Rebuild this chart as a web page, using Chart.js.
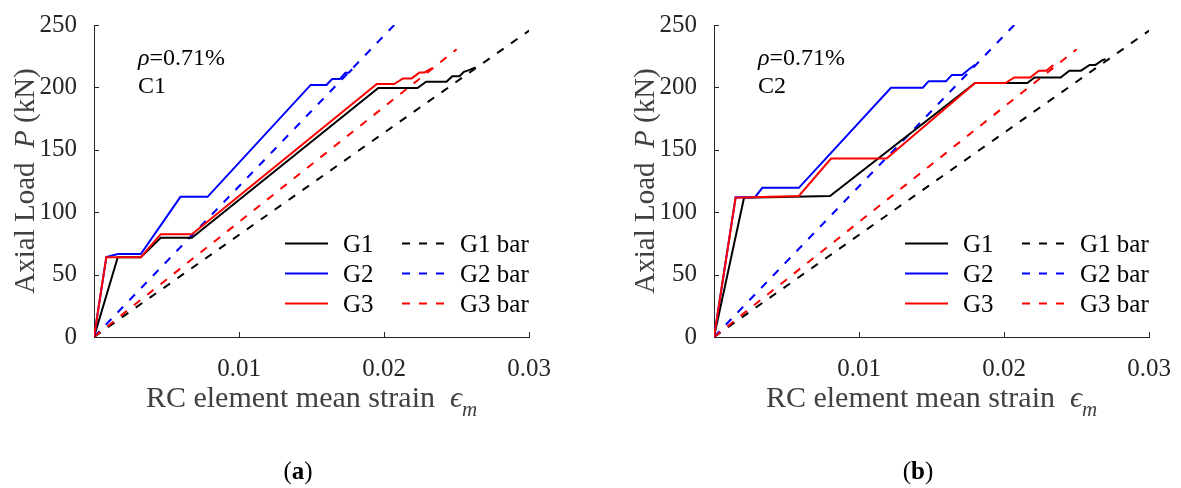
<!DOCTYPE html>
<html>
<head>
<meta charset="utf-8">
<title>Axial load vs mean strain</title>
<script src="https://cdn.jsdelivr.net/npm/chart.js@4.4.1/dist/chart.umd.min.js"></script>
<style>
  html, body { margin: 0; padding: 0; background: #fff; }
  #wrap { position: relative; width: 1181px; height: 488px; overflow: hidden; }
  #wrap canvas { position: absolute; top: 0; }
</style>
</head>
<body>
<div id="wrap">
  <canvas id="chart-a" width="560" height="488" style="left:0"></canvas>
  <canvas id="chart-b" width="560" height="488" style="left:620px"></canvas>
</div>
<script>
// ---- axis ticks ----
const strainTicks = [0.01, 0.02, 0.03];
const loadTicks = [0, 50, 100, 150, 200, 250];

const seriesLabels = ['G1', 'G2', 'G3'];

// ---- column C1 : measured curves ----
const c1G1Strain = [0, 0.00164, 0.00323, 0.0046, 0.00675, 0.0196, 0.0223, 0.0229, 0.0243, 0.0247, 0.0252, 0.0255, 0.0259, 0.0263];
const c1G1Load   = [0, 64, 64, 79.5, 79.5, 199.5, 199.5, 204.5, 204.5, 209, 209, 212.5, 214, 216];
const c1G2Strain = [0, 0.00085, 0.00164, 0.00323, 0.00596, 0.00783, 0.01494, 0.01603, 0.01642, 0.01695, 0.01733, 0.01756, 0.0178];
const c1G2Load   = [0, 64, 66.5, 66.5, 112.3, 112.3, 202, 202, 206.7, 206.7, 211.7, 211.7, 214.5];
const c1G3Strain = [0, 0.00085, 0.00323, 0.0046, 0.00675, 0.0195, 0.0207, 0.0213, 0.0219, 0.02245, 0.0228, 0.0233];
const c1G3Load   = [0, 64, 64, 82.4, 82.4, 202.7, 202.7, 207.2, 207.2, 212, 212, 215.5];

// ---- column C2 : measured curves ----
const c2G1Strain = [0, 0.00207, 0.008, 0.018, 0.0216, 0.0221, 0.0239, 0.0245, 0.0253, 0.0259, 0.0263, 0.0268, 0.027];
const c2G1Load   = [0, 111.5, 113, 203.5, 203.5, 208, 208, 213.4, 213.4, 218, 218, 222, 222.5];
const c2G2Strain = [0, 0.00149, 0.00283, 0.00333, 0.00585, 0.0122, 0.0144, 0.0148, 0.016, 0.0164, 0.0171, 0.0176, 0.018];
const c2G2Load   = [0, 112, 112, 119.5, 119.5, 199.7, 199.7, 205, 205, 210, 210, 214.7, 218];
const c2G3Strain = [0, 0.00149, 0.00585, 0.00807, 0.0119, 0.018, 0.0201, 0.0207, 0.0218, 0.0224, 0.0229, 0.0234];
const c2G3Load   = [0, 111.5, 113, 143, 143, 203.5, 203.5, 208, 208, 213.4, 213.4, 218];

// ---- bare bar response (same for both columns) ----
const barG1Strain = [0, 0.03];
const barG1Load   = [0, 245.5];
const barG2Strain = [0, 0.0207];
const barG2Load   = [0, 250];
const barG3Strain = [0, 0.025];
const barG3Load   = [0, 230.5];

const SERIF = '"Liberation Serif", serif';
const LINE_COLORS = ['#000000', '#0000ff', '#ff0000'];
const DASH = [8, 9];

function toPoints(xs, ys) {
    return xs.map(function(x, i) { return { x: x, y: ys[i] }; });
}

function buildDatasets(solid, bars) {
    const sets = [];
    solid.forEach(function(s, i) {
        sets.push({
            label: seriesLabels[i],
            data: toPoints(s[0], s[1]),
            borderColor: LINE_COLORS[i],
            borderWidth: 2,
            showLine: true,
            pointRadius: 0,
            order: 2 - i
        });
    });
    bars.forEach(function(s, i) {
        sets.push({
            label: seriesLabels[i] + ' bar',
            data: toPoints(s[0], s[1]),
            borderColor: LINE_COLORS[i],
            borderWidth: 2,
            borderDash: DASH,
            showLine: true,
            pointRadius: 0,
            order: 5 - i
        });
    });
    return sets;
}

// draws a row of differently styled text pieces
function drawRuns(ctx, runs, x, y, align) {
    let total = 0;
    runs.forEach(function(r) {
        ctx.font = r.font;
        r.w = ctx.measureText(r.text).width;
        total += r.w;
    });
    let cx = align === 'center' ? x - total / 2 : x;
    ctx.textAlign = 'left';
    ctx.textBaseline = 'alphabetic';
    runs.forEach(function(r) {
        ctx.font = r.font;
        ctx.fillText(r.text, cx, y + (r.dy || 0));
        cx += r.w;
    });
}

const panelDecor = {
    id: 'panelDecor',
    afterDraw: function(chart, args, opts) {
        const ctx = chart.ctx;
        const a = chart.chartArea;
        const xs = chart.scales.x;
        const ys = chart.scales.y;
        ctx.save();

        // inward tick marks
        ctx.strokeStyle = '#262626';
        ctx.lineWidth = 1;
        ctx.beginPath();
        strainTicks.forEach(function(v) {
            const px = Math.round(xs.getPixelForValue(v)) + 0.5;
            ctx.moveTo(px, a.bottom);
            ctx.lineTo(px, a.bottom - 5);
        });
        loadTicks.forEach(function(v) {
            const py = Math.round(ys.getPixelForValue(v)) + 0.5;
            ctx.moveTo(a.left, py);
            ctx.lineTo(a.left + 5, py);
        });
        ctx.stroke();

        // axis titles
        ctx.fillStyle = '#404040';
        drawRuns(ctx, [
            { text: 'RC element mean strain  ', font: '30px ' + SERIF },
            { text: '\u03F5', font: 'italic 30px ' + SERIF },
            { text: 'm', font: 'italic 21px ' + SERIF, dy: 9 }
        ], (a.left + a.right) / 2, 407, 'center');

        ctx.save();
        ctx.translate(34, (a.top + a.bottom) / 2);
        ctx.rotate(-Math.PI / 2);
        drawRuns(ctx, [
            { text: 'Axial Load  ', font: '29px ' + SERIF },
            { text: 'P', font: 'italic 29px ' + SERIF },
            { text: ' (kN)', font: '29px ' + SERIF }
        ], 0, 0, 'center');
        ctx.restore();

        // reinforcement ratio and column tag
        ctx.fillStyle = '#000';
        drawRuns(ctx, [
            { text: '\u03C1', font: 'italic 24px ' + SERIF },
            { text: '=0.71%', font: '24px ' + SERIF }
        ], a.left + 44, 65, 'left');
        drawRuns(ctx, [{ text: opts.tag, font: '24px ' + SERIF }], a.left + 44, 93, 'left');

        // legend: measured curves on the left, bar curves on the right
        const sets = chart.data.datasets;
        for (let i = 0; i < 3; i++) {
            const rowY = a.top + 218.5 + i * 30;
            const solid = sets[i];
            const bar = sets[i + 3];
            ctx.lineWidth = 2;
            ctx.strokeStyle = solid.borderColor;
            ctx.setLineDash([]);
            ctx.beginPath();
            ctx.moveTo(a.left + 191, rowY);
            ctx.lineTo(a.left + 234, rowY);
            ctx.stroke();

            ctx.strokeStyle = bar.borderColor;
            ctx.setLineDash(DASH);
            ctx.beginPath();
            ctx.moveTo(a.left + 308, rowY);
            ctx.lineTo(a.left + 350, rowY);
            ctx.stroke();
            ctx.setLineDash([]);

            ctx.fillStyle = '#000';
            drawRuns(ctx, [{ text: solid.label, font: '25px ' + SERIF }], a.left + 249, rowY + 8.5, 'left');
            drawRuns(ctx, [{ text: bar.label, font: '25px ' + SERIF }], a.left + 366, rowY + 8.5, 'left');
        }

        // sub-figure caption
        ctx.fillStyle = '#000';
        drawRuns(ctx, [
            { text: '(', font: '25px ' + SERIF },
            { text: opts.caption, font: 'bold 25px ' + SERIF },
            { text: ')', font: '25px ' + SERIF }
        ], 298, 479, 'center');

        ctx.restore();
    }
};

function makePanel(canvasId, solid, bars, tag, caption) {
    const ctx = document.getElementById(canvasId).getContext('2d');
    return new Chart(ctx, {
        type: 'scatter',
        data: { datasets: buildDatasets(solid, bars) },
        options: {
            responsive: false,
            animation: false,
            layout: { padding: { left: 0, right: 26, top: 25, bottom: 101 } },
            elements: { line: { tension: 0, borderCapStyle: 'butt' } },
            plugins: {
                legend: { display: false },
                tooltip: { enabled: false },
                panelDecor: { tag: tag, caption: caption }
            },
            scales: {
                x: {
                    type: 'linear',
                    min: 0,
                    max: 0.03,
                    afterBuildTicks: function(s) { s.ticks = strainTicks.map(function(v) { return { value: v }; }); },
                    afterFit: function(s) { s.height = 50; },
                    grid: { display: false },
                    border: { display: true, color: '#262626', width: 1 },
                    ticks: {
                        autoSkip: false,
                        maxRotation: 0,
                        padding: 9,
                        color: '#262626',
                        font: { family: SERIF, size: 25 },
                        callback: function(v) { return String(v); }
                    }
                },
                y: {
                    type: 'linear',
                    min: 0,
                    max: 250,
                    afterBuildTicks: function(s) { s.ticks = loadTicks.map(function(v) { return { value: v }; }); },
                    afterFit: function(s) { s.width = 94; },
                    grid: { display: false },
                    border: { display: true, color: '#262626', width: 1 },
                    ticks: {
                        autoSkip: false,
                        padding: 9,
                        color: '#262626',
                        font: { family: SERIF, size: 25 },
                        callback: function(v) { return String(v); }
                    }
                }
            }
        },
        plugins: [panelDecor]
    });
}

const barCurves = [[barG1Strain, barG1Load], [barG2Strain, barG2Load], [barG3Strain, barG3Load]];

function drawAll() {
    makePanel('chart-a',
        [[c1G1Strain, c1G1Load], [c1G2Strain, c1G2Load], [c1G3Strain, c1G3Load]],
        barCurves, 'C1', 'a');
    makePanel('chart-b',
        [[c2G1Strain, c2G1Load], [c2G2Strain, c2G2Load], [c2G3Strain, c2G3Load]],
        barCurves, 'C2', 'b');
}

// make sure the serif face is ready before the canvases paint text
Promise.all([
    document.fonts.load('25px "Liberation Serif"'),
    document.fonts.load('italic 25px "Liberation Serif"'),
    document.fonts.load('bold 25px "Liberation Serif"')
]).then(drawAll, drawAll);
</script>
</body>
</html>
